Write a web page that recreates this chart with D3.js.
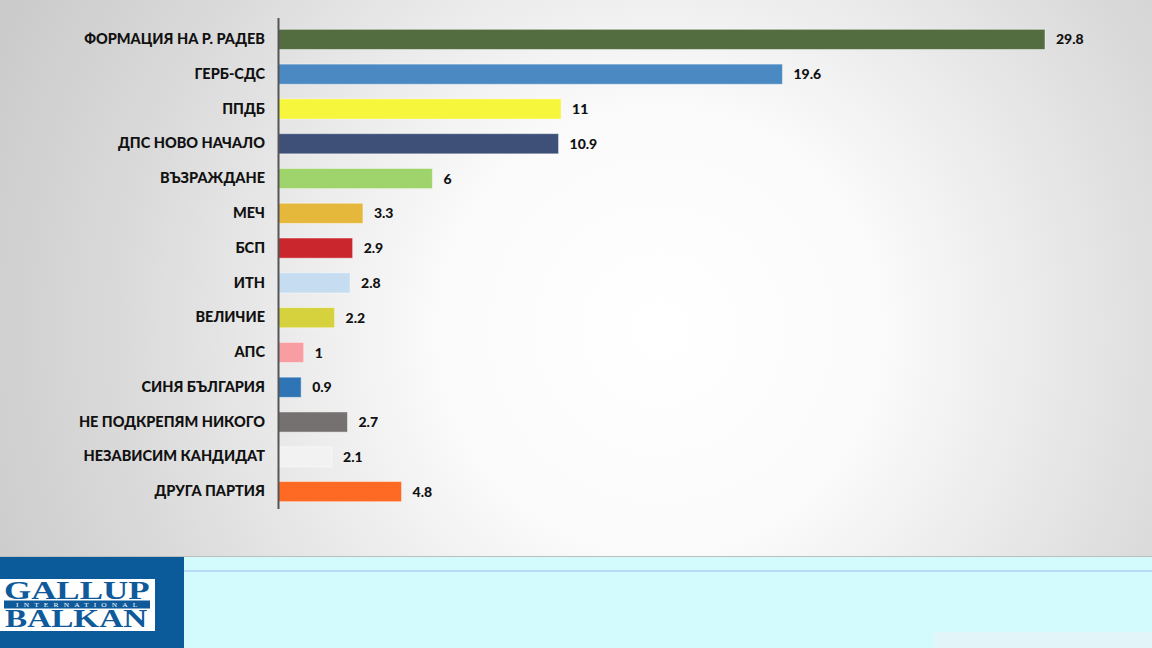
<!DOCTYPE html>
<html><head><meta charset="utf-8">
<script src="https://cdn.jsdelivr.net/npm/d3@7"></script>
<style>html,body{margin:0;padding:0;overflow:hidden;background:#fff}
#chart{position:relative;width:1152px;height:648px}
.logo{position:absolute;white-space:nowrap;font-family:"Liberation Serif";overflow:visible;transform-origin:0 0}
</style>
</head><body><div id="chart"></div>
<script>
const categories = ["ФОРМАЦИЯ НА Р. РАДЕВ","ГЕРБ-СДС","ППДБ","ДПС НОВО НАЧАЛО","ВЪЗРАЖДАНЕ","МЕЧ","БСП","ИТН","ВЕЛИЧИЕ","АПС","СИНЯ БЪЛГАРИЯ","НЕ ПОДКРЕПЯМ НИКОГО","НЕЗАВИСИМ КАНДИДАТ","ДРУГА ПАРТИЯ"];
const values = [29.8,19.6,11,10.9,6,3.3,2.9,2.8,2.2,1,0.9,2.7,2.1,4.8];
const valueLabels = ["29.8","19.6","11","10.9","6","3.3","2.9","2.8","2.2","1","0.9","2.7","2.1","4.8"];
const colors = ["#536d40","#4b89c2","#f6f63c","#3f5078","#9fd46c","#e5b73b","#c9262e","#c6dcf0","#d5d23e","#f89da2","#2f75b5","#767171","#f2f2f2","#fe6a24"];

const W = 1152, H = 648;
const root = d3.select("#chart");
const svg = root.append("svg").attr("width", W).attr("height", H)
  .style("display","block");
const defs = svg.append("defs");
const rg = defs.append("radialGradient").attr("id","bg")
  .attr("gradientUnits","userSpaceOnUse").attr("cx",660).attr("cy",330).attr("r",720);
rg.append("stop").attr("offset","0").attr("stop-color","#ffffff");
rg.append("stop").attr("offset","0.3").attr("stop-color","#fbfbfb");
rg.append("stop").attr("offset","0.75").attr("stop-color","#dadada");
rg.append("stop").attr("offset","1").attr("stop-color","#cbcbcb");

svg.append("rect").attr("x",0).attr("y",0).attr("width",W).attr("height",557).attr("fill","url(#bg)");
svg.append("line").attr("x1",0).attr("x2",W).attr("y1",556.5).attr("y2",556.5).attr("stroke","#bdbdbd").attr("stroke-width",1);

// footer
svg.append("rect").attr("x",0).attr("y",557).attr("width",W).attr("height",H-557).attr("fill","#d3fafd");
svg.append("rect").attr("x",934).attr("y",632).attr("width",W-934).attr("height",16).attr("fill","#e2f6f9");
svg.append("rect").attr("x",184).attr("y",570).attr("width",W-184).attr("height",2).attr("fill","#b8dcf8");
svg.append("rect").attr("x",0).attr("y",557).attr("width",184).attr("height",H-557).attr("fill","#0b5a99");
// logo box
svg.append("rect").attr("x",0).attr("y",579).attr("width",155).attr("height",52).attr("fill","#ffffff");
svg.append("rect").attr("x",4).attr("y",600.5).attr("width",146).attr("height",8).attr("fill","#0e5a9a");

function logoText(txt, left, top, h, size, weight, color, targetW, ls) {
  const d = root.append("div").attr("class","logo")
    .style("left", left + "px").style("top", top + "px")
    .style("height", h + "px").style("line-height", h + "px")
    .style("font-size", size + "px").style("font-weight", weight)
    .style("color", color).style("letter-spacing", (ls || 0) + "px").text(txt);
  const w = d.node().scrollWidth - (ls || 0);
  d.style("width", w + "px").style("transform", `scaleX(${targetW / w})`);
  return d;
}
logoText("GALLUP", 4, 581.5, 18.5, 26, "bold", "#0e5a9a", 145, 0);
logoText("INTERNATIONAL", 16, 601, 7, 6.5, "normal", "#ffffff", 122, 4.5);
logoText("BALKAN", 5, 610, 18.5, 25.5, "bold", "#0e5a9a", 142, 0);

// chart
const x0 = 278;
const x = d3.scaleLinear().domain([0, 29.8]).range([x0, 1045]);
const y = d3.scaleBand().domain(categories).range([22, 509]).paddingInner(0.42).paddingOuter(0.21);

const g = svg.append("g");
g.selectAll("rect.bar").data(categories).join("rect").attr("class","bar")
  .attr("x", x0).attr("y", d => y(d))
  .attr("width", (d,i) => x(values[i]) - x0).attr("height", y.bandwidth())
  .attr("fill", (d,i) => colors[i])
  .attr("stroke", "rgba(255,255,255,0.45)").attr("stroke-width", 1);

g.selectAll("text.val").data(categories).join("text").attr("class","val")
  .attr("x", (d,i) => x(values[i]) + 11).attr("y", d => y(d) + y.bandwidth()/2)
  .attr("dy","0.36em").attr("font-family","Lato").attr("font-weight","900")
  .attr("font-size",14).attr("fill","#111").text((d,i) => valueLabels[i]);

const yAxis = d3.axisLeft(y).tickSize(0).tickPadding(13);
const ax = svg.append("g").attr("transform",`translate(${x0},0)`).call(yAxis);
ax.select(".domain").attr("d", "M0.5,18V509").attr("stroke","#555").attr("stroke-width",2);
ax.selectAll("text").attr("font-family","Lato").attr("font-weight","900")
  .attr("font-size",14.5).attr("fill","#111");
</script></body></html>
